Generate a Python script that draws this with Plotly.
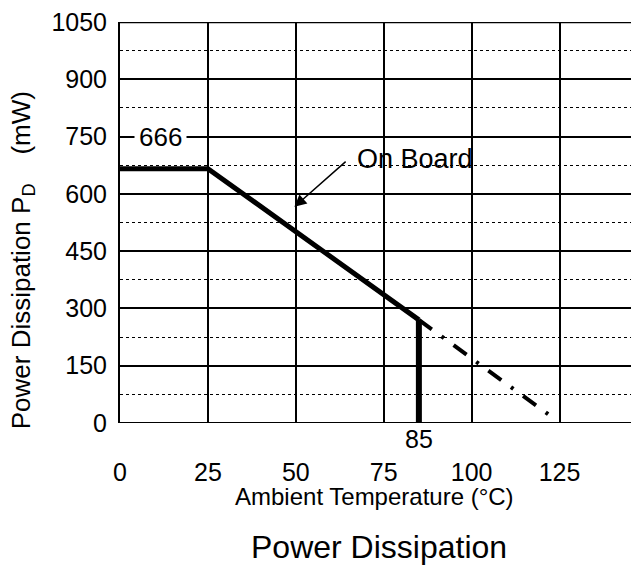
import plotly.graph_objects as go

# Data
temp_board = [0, 25, 85]
pd_board = [666, 666, 270]
drop_temp = [85, 85]
drop_pd = [270, 0]
ext_temp = [85, 122.5]
ext_pd = [270, 18]

x_ticks = [0, 25, 50, 75, 100, 125]
x_tick_labels = ["0", "25", "50", "75", "100", "125"]
y_ticks = [0, 150, 300, 450, 600, 750, 900, 1050]
y_tick_labels = ["0", "150", "300", "450", "600", "750", "900", "1050"]

FONT = "Liberation Sans, Arial, sans-serif"

fig = go.Figure()
fig.add_trace(go.Scatter(x=temp_board, y=pd_board, mode="lines",
                         line=dict(color="black", width=5), cliponaxis=False,
                         showlegend=False, hoverinfo="skip"))
fig.add_trace(go.Scatter(x=drop_temp, y=drop_pd, mode="lines",
                         line=dict(color="black", width=6), showlegend=False,
                         hoverinfo="skip"))
fig.add_trace(go.Scatter(x=ext_temp, y=ext_pd, mode="lines",
                         line=dict(color="black", width=4, dash="16px,12px,3px,12px"),
                         showlegend=False, hoverinfo="skip"))

fig.update_layout(
    width=631, height=558,
    margin=dict(l=111.5, r=0, t=12, b=143),
    paper_bgcolor="white", plot_bgcolor="white",
    font=dict(family=FONT, size=24, color="black"),
    showlegend=False,
)

fig.update_xaxes(
    range=[0, 147.6], tickvals=x_ticks, ticktext=x_tick_labels,
    showgrid=True, gridcolor="black", gridwidth=1.5,
    zeroline=False, showline=False,
    ticks="outside", ticklen=27, tickcolor="rgba(0,0,0,0)",
    tickfont=dict(size=25), ticklabeloverflow="allow",
)
fig.update_yaxes(
    range=[0, 1050], tickvals=y_ticks, ticktext=y_tick_labels,
    showgrid=True, gridcolor="black", gridwidth=1.5,
    minor=dict(dtick=75, tick0=0, showgrid=True, gridcolor="black",
               griddash="dot", gridwidth=1),
    zeroline=False, showline=True, linecolor="black", linewidth=2,
    ticks="outside", ticklen=6, tickcolor="rgba(0,0,0,0)",
    tickfont=dict(size=25), ticklabeloverflow="allow",
)

# top and bottom border
fig.add_shape(type="line", xref="paper", yref="y", x0=0, x1=1, y0=1050, y1=1050,
              line=dict(color="black", width=2.5))
fig.add_shape(type="line", xref="paper", yref="y", x0=0, x1=1, y0=0, y1=0,
              line=dict(color="black", width=2))

annotations = [
    dict(x=11.5, y=750, xref="x", yref="y", text="666", showarrow=False,
         bgcolor="white", font=dict(size=26), borderpad=4),
    dict(x=84, y=690, xref="x", yref="y", text="On Board", showarrow=False,
         font=dict(size=27)),
    dict(x=49.6, y=566, ax=64.6, ay=688, xref="x", yref="y", axref="x", ayref="y",
         text="", showarrow=True, arrowhead=2, arrowsize=1.6, arrowwidth=1.5,
         arrowcolor="black"),
    dict(x=85, y=0, xref="x", yref="paper", yshift=-16, yanchor="middle",
         text="85", showarrow=False, font=dict(size=25)),
    dict(x=72.3, y=-0.1836, xref="x", yref="paper", yanchor="middle",
         text="Ambient Temperature (°C)", showarrow=False, font=dict(size=24)),
    dict(x=73.7, y=-0.31, xref="x", yref="paper", yanchor="middle",
         text="Power Dissipation", showarrow=False, font=dict(size=32)),
    dict(x=-0.1877, y=425, xref="paper", yref="y", xanchor="center", yanchor="middle",
         text="Power Dissipation P<sub>D</sub>\u00a0\u00a0\u00a0\u00a0(mW)",
         textangle=-90, showarrow=False, font=dict(size=26)),
]
fig.update_layout(annotations=annotations)

fig.write_html("out.html")
